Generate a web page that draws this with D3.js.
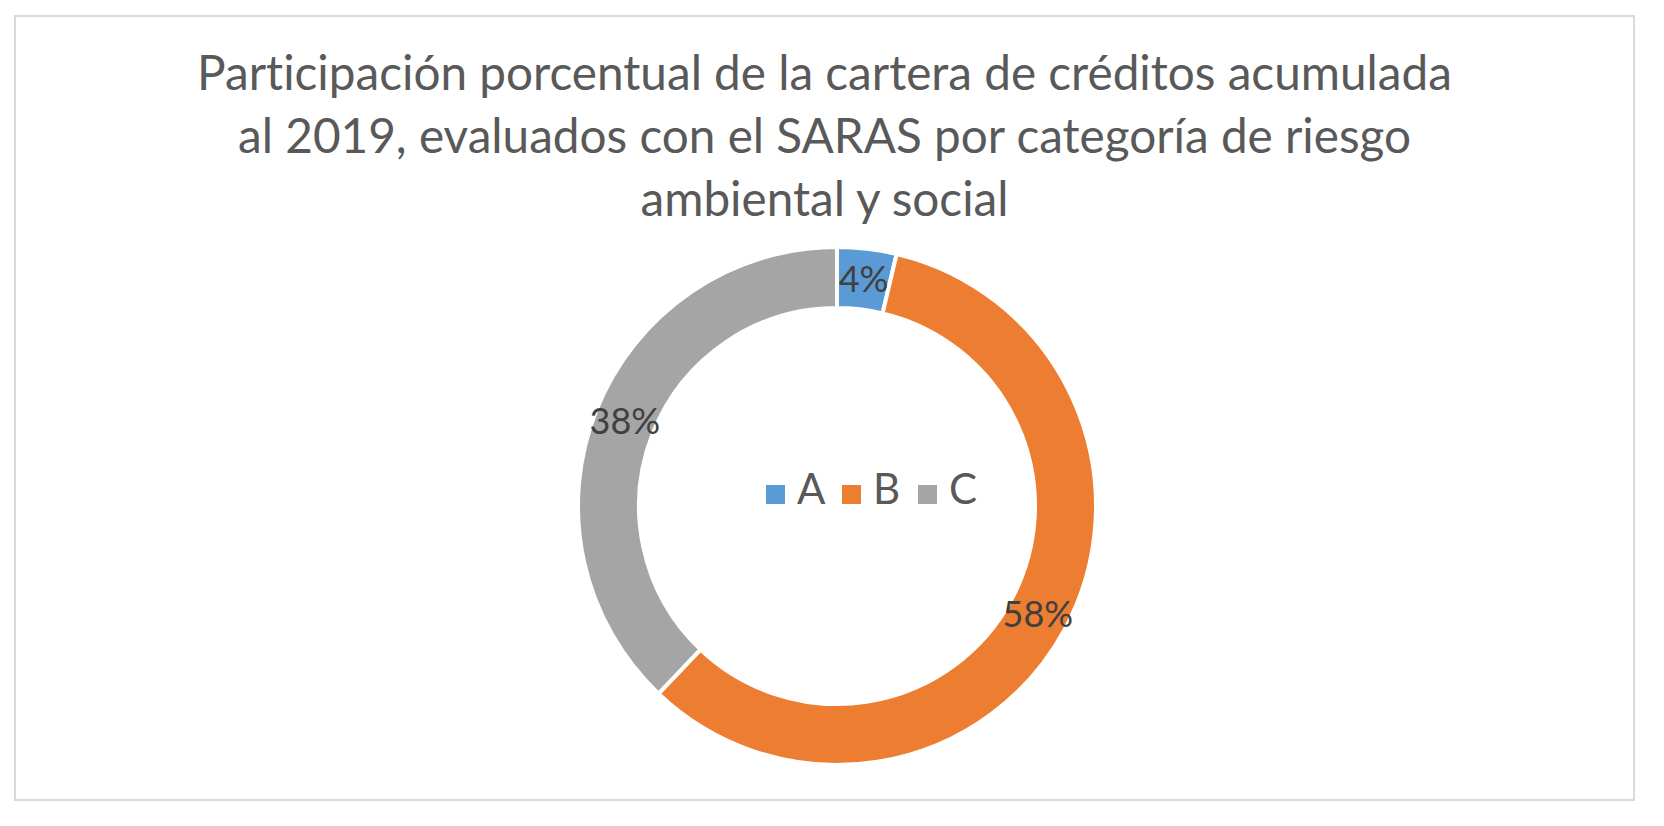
<!DOCTYPE html>
<html>
<head>
<meta charset="utf-8">
<script src="https://cdn.jsdelivr.net/npm/d3@7"></script>
<style>
  html, body { margin: 0; padding: 0; background: #fff; }
  svg { display: block; }
  text { font-family: Lato, "Open Sans", sans-serif; font-variant-ligatures: none; }
</style>
</head>
<body>
<svg id="chart"></svg>
<script>
// data
const categories = ["A", "B", "C"];
const shares = [3.7, 58.4, 37.9];
const labels = ["4%", "58%", "38%"];
const colors = ["#5B9BD5", "#ED7D31", "#A5A5A5"];
const titleLines = [
  "Participación porcentual de la cartera de créditos acumulada",
  "al 2019, evaluados con el SARAS por categoría de riesgo",
  "ambiental y social"
];

let width = 1664;
let height = 826;
let cx = 837, cy = 506;
let outerR = 259, innerR = 198;

let svg = d3.select('#chart')
  .attr('width', width)
  .attr('height', height);

// chart frame
svg.append('rect')
  .attr('x', 15).attr('y', 16)
  .attr('width', 1619).attr('height', 784)
  .attr('fill', '#fff')
  .attr('stroke', '#d9d9d9')
  .attr('stroke-width', 2);

// title, sized so the first line spans what it does in the picture
let title = svg.append('text')
  .attr('text-anchor', 'middle')
  .attr('fill', '#595959')
  .attr('font-size', 50);
title.selectAll('tspan')
  .data(titleLines)
  .enter()
  .append('tspan')
    .attr('x', 824.5)
    .attr('y', (d, i) => 90 + i * 63)
    .text(d => d);
let firstLen = title.select('tspan').node().getComputedTextLength();
title.attr('font-size', 50 * 1255 / firstLen);

// donut
let pie = d3.pie().sort(null).value(d => d);
let arc = d3.arc().innerRadius(innerR).outerRadius(outerR);
let midArc = d3.arc().innerRadius((innerR + outerR) / 2).outerRadius((innerR + outerR) / 2);

let g = svg.append('g').attr('transform', `translate(${cx},${cy})`);
let slices = pie(shares);

g.selectAll('path')
  .data(slices)
  .enter()
  .append('path')
    .attr('d', arc)
    .attr('fill', (d, i) => colors[i])
    .attr('stroke', '#fff')
    .attr('stroke-width', 4);

g.selectAll('text.lbl')
  .data(slices)
  .enter()
  .append('text')
    .attr('class', 'lbl')
    .attr('transform', d => `translate(${midArc.centroid(d)})`)
    .attr('text-anchor', 'middle')
    .attr('dy', '0.35em')
    .attr('fill', '#404040')
    .attr('font-size', 36)
    .text((d, i) => labels[i]);

// legend
let legendX = d3.scalePoint().domain(categories).range([766, 918]);
let legend = svg.append('g');
let items = legend.selectAll('g')
  .data(categories)
  .enter()
  .append('g')
    .attr('transform', d => `translate(${legendX(d)},485)`);
items.append('rect')
  .attr('width', 19).attr('height', 19)
  .attr('fill', (d, i) => colors[i]);
items.append('text')
  .attr('x', 31)
  .attr('y', 19)
  .attr('fill', '#595959')
  .attr('font-size', 42)
  .text(d => d);
</script>
</body>
</html>
